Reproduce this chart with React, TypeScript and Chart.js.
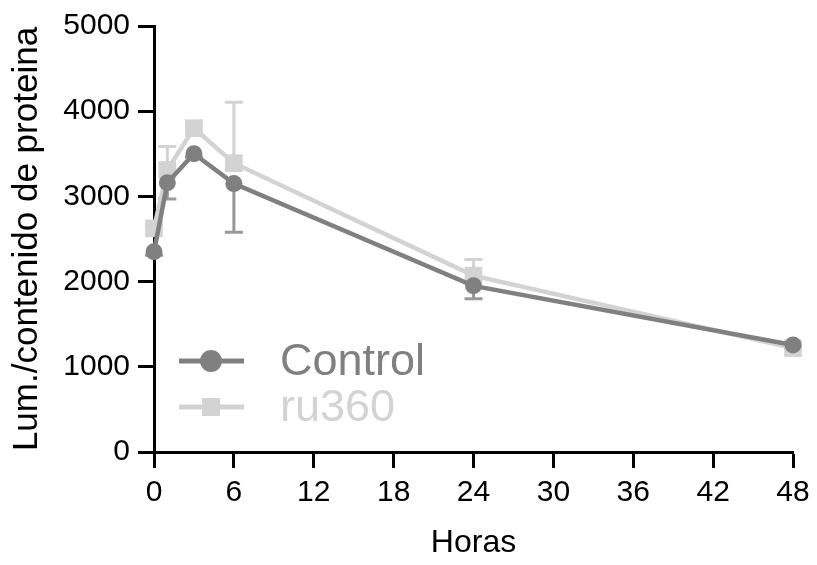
import React, { useEffect, useRef } from "react";
import { Chart, registerables } from "chart.js";

Chart.register(...registerables);

const hours = [0, 1, 3, 6, 24, 48];
const controlValues = [2350, 3160, 3500, 3150, 1950, 1255];
const controlErrDown = [40, 190, 40, 572, 150, 40];
const ru360Values = [2625, 3310, 3800, 3390, 2070, 1220];
const ru360ErrUp = [40, 275, 40, 716, 190, 40];
const xTicks = [0, 6, 12, 18, 24, 30, 36, 42, 48];
const yTicks = [0, 1000, 2000, 3000, 4000, 5000];

const CONTROL_COLOR = "#808080";
const CONTROL_ERR_COLOR = "#999999";
const RU_COLOR = "#d3d3d3";
const FONT = "'Liberation Sans', Arial, Helvetica, sans-serif";

const errorBarPlugin = {
  id: "errorBars",
  beforeDatasetsDraw(chart: any) {
    const ctx = chart.ctx;
    const xs = chart.scales.x;
    const ys = chart.scales.y;
    const draw = (vals: number[], errs: number[], dir: number, color: string) => {
      ctx.save();
      ctx.strokeStyle = color;
      ctx.lineWidth = 3;
      vals.forEach((v, i) => {
        const x = xs.getPixelForValue(hours[i]);
        const y0 = ys.getPixelForValue(v);
        const y1 = ys.getPixelForValue(v + dir * errs[i]);
        ctx.beginPath();
        ctx.moveTo(x, y0);
        ctx.lineTo(x, y1);
        ctx.moveTo(x - 9, y1);
        ctx.lineTo(x + 9, y1);
        ctx.stroke();
      });
      ctx.restore();
    };
    draw(ru360Values, ru360ErrUp, 1, RU_COLOR);
    draw(controlValues, controlErrDown, -1, CONTROL_ERR_COLOR);
  },
};

const legendPlugin = {
  id: "customLegend",
  afterDraw(chart: any) {
    const ctx = chart.ctx;
    ctx.save();
    const items = [
      { label: "Control", color: CONTROL_COLOR, y: 361, shape: "circle" },
      { label: "ru360", color: RU_COLOR, y: 407, shape: "square" },
    ];
    items.forEach((it) => {
      ctx.strokeStyle = it.color;
      ctx.fillStyle = it.color;
      ctx.lineWidth = 5;
      ctx.beginPath();
      ctx.moveTo(179, it.y);
      ctx.lineTo(244, it.y);
      ctx.stroke();
      if (it.shape === "circle") {
        ctx.beginPath();
        ctx.arc(211, it.y, 11, 0, Math.PI * 2);
        ctx.fill();
      } else {
        ctx.fillRect(211 - 9, it.y - 9, 18, 18);
      }
      ctx.font = `45px ${FONT}`;
      ctx.textBaseline = "middle";
      ctx.textAlign = "left";
      ctx.fillText(it.label, 280, it.y + 2);
    });
    ctx.restore();
  },
};

export default function App() {
  const ref = useRef<HTMLCanvasElement>(null);
  useEffect(() => {
    if (!ref.current) return;
    const chart = new Chart(ref.current, {
      type: "line",
      data: {
        datasets: [
          {
            label: "Control",
            data: hours.map((h, i) => ({ x: h, y: controlValues[i] })),
            borderColor: CONTROL_COLOR,
            backgroundColor: CONTROL_COLOR,
            borderWidth: 4.5,
            pointStyle: "circle",
            pointRadius: 8.5,
            pointBorderWidth: 0,
            clip: false,
          },
          {
            label: "ru360",
            data: hours.map((h, i) => ({ x: h, y: ru360Values[i] })),
            borderColor: RU_COLOR,
            backgroundColor: RU_COLOR,
            borderWidth: 4.5,
            pointStyle: "rect",
            pointRadius: 12.5,
            pointBorderWidth: 0,
            clip: false,
          },
        ],
      },
      options: {
        animation: false,
        responsive: false,
        devicePixelRatio: 1,
        layout: { padding: { top: 26, right: 24, left: 0, bottom: 0 } },
        plugins: { legend: { display: false }, tooltip: { enabled: false } },
        scales: {
          x: {
            type: "linear",
            min: 0,
            max: 48,
            afterBuildTicks: (s: any) => {
              s.ticks = xTicks.map((v) => ({ value: v }));
            },
            afterFit: (s: any) => {
              s.height = 113;
            },
            ticks: {
              color: "#000",
              font: { family: FONT, size: 30 },
              padding: 7,
              callback: (v: any) => String(v),
            },
            grid: {
              drawOnChartArea: false,
              tickLength: 16,
              tickWidth: 3,
              tickColor: "#000",
              color: "#000",
            },
            border: { color: "#000", width: 3 },
            title: {
              display: true,
              text: "Horas",
              color: "#000",
              font: { family: FONT, size: 32 },
              padding: { top: 0, bottom: 3 },
            },
          },
          y: {
            min: 0,
            max: 5000,
            afterBuildTicks: (s: any) => {
              s.ticks = yTicks.map((v) => ({ value: v }));
            },
            afterFit: (s: any) => {
              s.width = 154;
            },
            ticks: {
              color: "#000",
              font: { family: FONT, size: 30 },
              padding: 8,
              callback: (v: any) => String(v),
            },
            grid: {
              drawOnChartArea: false,
              tickLength: 16,
              tickWidth: 3,
              tickColor: "#000",
              color: "#000",
            },
            border: { color: "#000", width: 3 },
            title: {
              display: true,
              text: "Lum./contenido de proteina",
              color: "#000",
              font: { family: FONT, size: 35 },
              padding: { top: 6, bottom: 0 },
            },
          },
        },
      },
      plugins: [errorBarPlugin, legendPlugin],
    } as any);
    return () => chart.destroy();
  }, []);
  return (
    <div style={{ position: "fixed", left: 0, top: 0, width: 817, height: 565, background: "#fff" }}>
      <canvas ref={ref} width={817} height={565} />
    </div>
  );
}
